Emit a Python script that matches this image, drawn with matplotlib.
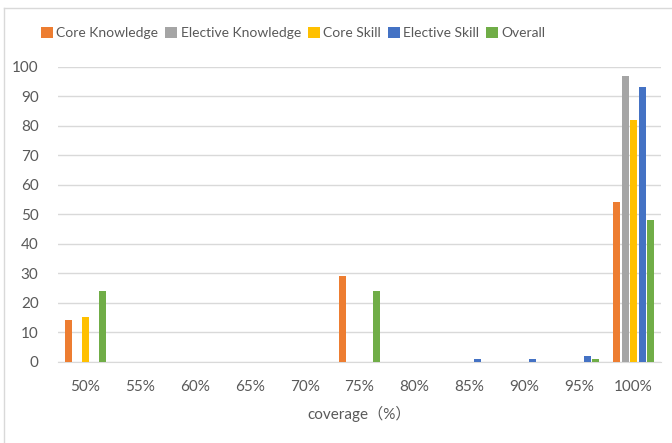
import numpy as np
import matplotlib.pyplot as plt
from matplotlib.lines import Line2D

plt.rcParams['font.family'] = ['Lato', 'Noto Sans CJK SC', 'DejaVu Sans']

# categories on the x axis
coverage = ['50%', '55%', '60%', '65%', '70%', '75%', '80%', '85%', '90%', '95%', '100%']

# series values
core_knowledge     = [14, 0, 0, 0, 0, 29, 0, 0, 0, 0, 54]
elective_knowledge = [0, 0, 0, 0, 0, 0, 0, 0, 0, 0, 97]
core_skill         = [15, 0, 0, 0, 0, 0, 0, 0, 0, 0, 82]
elective_skill     = [0, 0, 0, 0, 0, 0, 0, 1, 1, 2, 93]
overall            = [24, 0, 0, 0, 0, 24, 0, 0, 0, 1, 48]

series = [core_knowledge, elective_knowledge, core_skill, elective_skill, overall]
names = ['Core Knowledge', 'Elective Knowledge', 'Core Skill', 'Elective Skill', 'Overall']
colors = ['#ED7D31', '#A5A5A5', '#FFC000', '#4472C4', '#70AD47']

txt = '#595959'

fig = plt.figure(figsize=(6.72, 4.43), dpi=100)
ax = fig.add_axes([0.0863, 0.1835, 0.8973, 0.666])

x = np.arange(len(coverage))
step = 0.155
w = 0.128
for i, (vals, name, col) in enumerate(zip(series, names, colors)):
    ax.bar(x + (i - 2) * step, vals, width=w, color=col, label=name, zorder=3)

ax.set_xlim(-0.5, len(coverage) - 0.5)
ax.set_ylim(0, 100)
ax.set_yticks(range(0, 101, 10))
ax.set_xticks(x)
ax.set_xticklabels(coverage)
ax.yaxis.grid(True, color='#D9D9D9', linewidth=1, zorder=0)
ax.tick_params(axis='both', length=0, labelsize=11, labelcolor=txt)
ax.tick_params(axis='y', pad=14)
ax.tick_params(axis='x', pad=13)
for s in ['top', 'right', 'left']:
    ax.spines[s].set_visible(False)
ax.spines['bottom'].set_color('#D9D9D9')
ax.set_xlabel('coverage（%）', fontsize=11, color=txt, labelpad=9)

leg = fig.legend(loc='center left', bbox_to_anchor=(0.053, 0.926), ncol=5,
                 frameon=False, fontsize=10, handlelength=0.85, handleheight=0.85,
                 handletextpad=0.25, columnspacing=0.5, borderaxespad=0)
for t in leg.get_texts():
    t.set_color(txt)

# chart frame (left and top edges visible in the screenshot)
fig.add_artist(Line2D([0.006, 0.006], [0, 0.982], transform=fig.transFigure, color='#D9D9D9', lw=1))
fig.add_artist(Line2D([0.006, 1], [0.982, 0.982], transform=fig.transFigure, color='#D9D9D9', lw=1))

fig.savefig('out.png', dpi=100)
